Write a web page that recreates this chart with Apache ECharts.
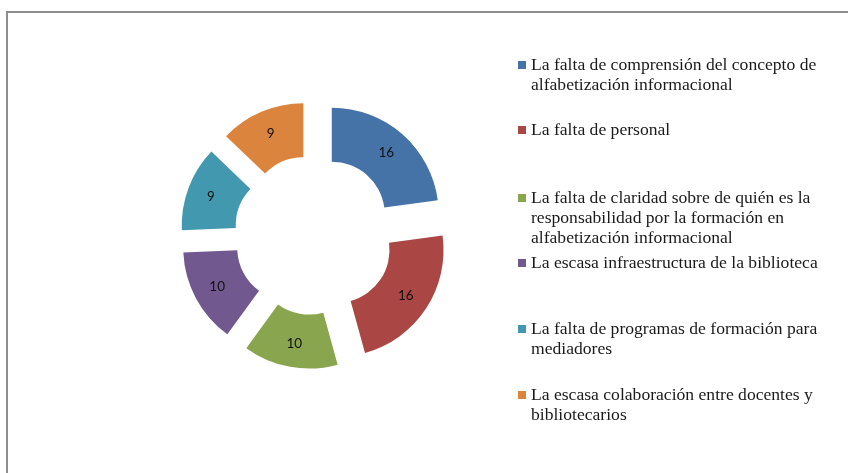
<!DOCTYPE html>
<html>
<head>
<meta charset="utf-8">
<script src="https://cdn.jsdelivr.net/npm/echarts@6/dist/echarts.min.js"></script>
<style>
  html, body { margin: 0; padding: 0; background: #fff; overflow: hidden; }
  .frame {
    position: absolute; left: 6px; top: 11px; width: 900px; height: 500px;
    border-top: 2px solid #8e8e8e; border-left: 2px solid #8e8e8e;
  }
  #chart { position: absolute; left: 0; top: 0; width: 848px; height: 473px; }
</style>
</head>
<body>
<div class="frame"></div>
<div id="chart"></div>
<script>
const categories = [
  'La falta de comprensión del concepto de alfabetización informacional',
  'La falta de personal',
  'La falta de claridad sobre de quién es la responsabilidad por la formación en alfabetización informacional',
  'La escasa infraestructura de la biblioteca',
  'La falta de programas de formación para mediadores',
  'La escasa colaboración entre docentes y bibliotecarios'
]
const values = [16, 16, 10, 10, 9, 9]
const colors = ['#4572A7', '#AA4643', '#89A54E', '#71588F', '#4198AF', '#DB843D']

// legend layout: first-line centre of every item
const legendCentres = [65, 130, 198, 263, 329, 395]
const lineH = 20
const legendFont = '17.6px "Liberation Serif"'
const wrapWidth = 296

// greedy word wrap so wrapped lines don't start with a space
const ctx = document.createElement('canvas').getContext('2d')
ctx.font = legendFont
function wrap(s) {
  const lines = []
  let cur = ''
  s.split(' ').forEach((w) => {
    const test = cur ? cur + ' ' + w : w
    if (cur && ctx.measureText(test).width > wrapWidth) {
      lines.push(cur)
      cur = w
    } else {
      cur = test
    }
  })
  lines.push(cur)
  return lines
}

const chart = echarts.init(document.getElementById('chart'))

// the legend icon sits in the middle of the text block, so blank lines
// are put in front to bring the first real line level with the icon
const legends = categories.map((name, i) => {
  const lines = wrap(name)
  const n = lines.length
  return {
    data: [name],
    left: 518,
    top: legendCentres[i] - (2 * n - 1) * lineH / 2,
    orient: 'vertical',
    padding: 0,
    icon: 'rect',
    itemWidth: 8,
    itemHeight: 8,
    selectedMode: false,
    formatter: () => '\n'.repeat(n - 1) + lines.join('\n'),
    textStyle: {
      fontFamily: 'Liberation Serif',
      fontSize: 17.6,
      color: '#1a1a1a',
      lineHeight: lineH
    }
  }
})

chart.setOption({
  backgroundColor: 'transparent',
  color: colors,
  animation: false,
  legend: legends,
  series: [
    {
      type: 'pie',
      center: [314, 235],
      radius: [53, 107],
      startAngle: 90,
      selectedMode: 'multiple',
      selectedOffset: 27,
      label: {
        show: true,
        position: 'inner',
        color: '#111',
        fontFamily: 'Lato',
        fontSize: 13.5,
        formatter: '{c}'
      },
      labelLine: { show: false },
      emphasis: { scale: false },
      data: categories.map((name, i) => ({ name, value: values[i], selected: true }))
    }
  ]
})
</script>
</body>
</html>
